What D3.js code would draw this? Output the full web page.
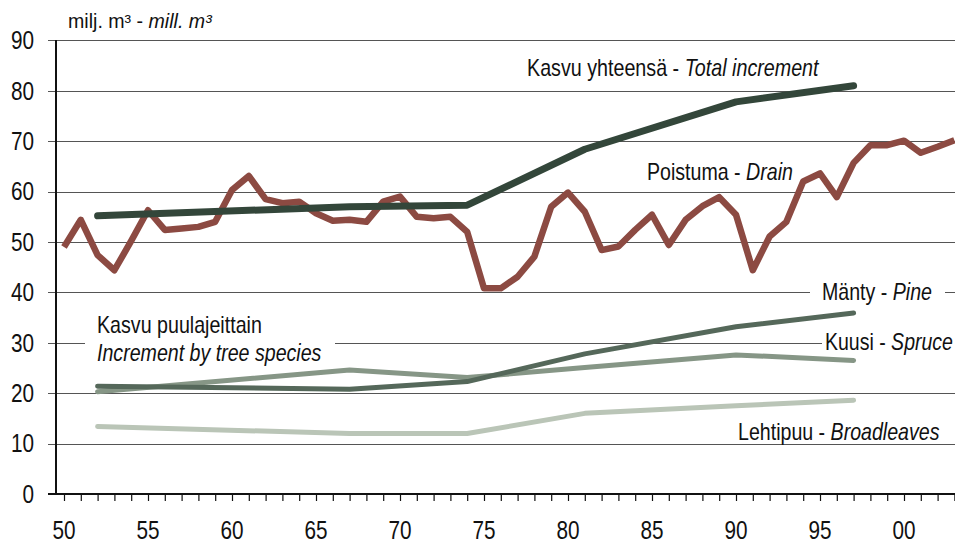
<!DOCTYPE html>
<html>
<head>
<meta charset="utf-8">
<script src="https://cdn.jsdelivr.net/npm/d3@7"></script>
<style>
  html, body { margin: 0; padding: 0; background: #fff; }
  svg { display: block; }
  text { font-family: "Liberation Sans", Arial, sans-serif; fill: #111; }
</style>
</head>
<body>
<svg id="chart" width="955" height="545"></svg>
<script>
// Drain (Poistuma), annual 1950-2003, mill. m3
const drainYears = [1950,1951,1952,1953,1954,1955,1956,1957,1958,1959,
  1960,1961,1962,1963,1964,1965,1966,1967,1968,1969,
  1970,1971,1972,1973,1974,1975,1976,1977,1978,1979,
  1980,1981,1982,1983,1984,1985,1986,1987,1988,1989,
  1990,1991,1992,1993,1994,1995,1996,1997,1998,1999,
  2000,2001,2002,2003];
const drain = [49.0,54.4,47.4,44.4,50.2,56.3,52.4,52.7,53.0,54.0,
  60.3,63.1,58.5,57.7,58.0,55.7,54.2,54.4,54.0,58.0,
  59.0,55.0,54.7,55.0,52.0,40.8,40.8,43.1,47.1,57.0,
  59.8,56.0,48.4,49.1,52.4,55.4,49.4,54.4,57.1,58.9,
  55.4,44.4,51.1,54.0,62.0,63.6,58.9,65.7,69.2,69.2,
  70.1,67.7,68.9,70.2];

// Increment by inventory (mid-years)
const incYears   = [1952,1967,1974,1981,1990,1997];
const totalInc   = [55.2,57.0,57.3,68.4,77.8,81.0];
const pine       = [21.4,20.8,22.3,27.8,33.2,35.9];
const spruce     = [20.3,24.6,23.1,25.1,27.6,26.5];
const broadleaf  = [13.4,12.0,12.0,16.0,17.5,18.6];

const yTicks = [0,10,20,30,40,50,60,70,80,90];
const xLabelYears = [1950,1955,1960,1965,1970,1975,1980,1985,1990,1995,2000];

const NARROW = 0.83; // the original uses a condensed face

const svg = d3.select('#chart');
const x = d3.scaleLinear().domain([1950, 2003]).range([64, 954.4]);
const y = d3.scaleLinear().domain([0, 90]).range([494, 40.4]);

// gridlines
svg.append('g').selectAll('line').data(yTicks.filter(v => v > 0)).join('line')
  .attr('x1', 48).attr('x2', 955)
  .attr('y1', d => Math.round(y(d)) + 0.5).attr('y2', d => Math.round(y(d)) + 0.5)
  .attr('stroke', '#555').attr('stroke-width', 1);

// y labels
svg.append('g').selectAll('text').data(yTicks).join('text')
  .attr('transform', d => 'translate(34,' + y(d) + ') scale(' + NARROW + ',1)')
  .attr('text-anchor', 'end').attr('dominant-baseline', 'central')
  .style('font-size', '25px')
  .text(d => d);

// x axis
const xAxis = d3.axisBottom(x).tickValues(drainYears).tickSize(7).tickFormat('');
const gx = svg.append('g').attr('transform', 'translate(0,494)').call(xAxis);
gx.select('.domain').remove();
gx.selectAll('.tick line').attr('stroke', '#111').attr('stroke-width', 1.2);
svg.append('line').attr('x1', 48).attr('x2', 955).attr('y1', 494).attr('y2', 494)
  .attr('stroke', '#111').attr('stroke-width', 2);
svg.append('line').attr('x1', 56).attr('x2', 56).attr('y1', 40).attr('y2', 495)
  .attr('stroke', '#111').attr('stroke-width', 2);

svg.append('g').selectAll('text').data(xLabelYears).join('text')
  .attr('transform', d => 'translate(' + x(d) + ',530) scale(' + NARROW + ',1)')
  .attr('text-anchor', 'middle').attr('dominant-baseline', 'central')
  .style('font-size', '25px')
  .text(d => String(d % 100).padStart(2, '0'));

// text label squeezed to a given width, optional white box behind it
const bgLayer = svg.append('g');
const lineLayer = svg.append('g');
const textLayer = svg.append('g');

function label(px, py, parts, opts) {
  const g = textLayer.append('g');
  const t = g.append('text').attr('x', 0).attr('y', 0)
    .attr('dominant-baseline', 'central')
    .style('font-size', opts.size + 'px');
  parts.forEach(p => {
    const ts = t.append('tspan').text(p.t);
    if (p.i) ts.style('font-style', 'italic');
  });
  const b = t.node().getBBox();
  const k = opts.width / b.width;
  g.attr('transform', 'translate(' + px + ',' + py + ') scale(' + k + ',1)');
  if (opts.bg) {
    bgLayer.append('rect').attr('fill', '#fff')
      .attr('x', px - opts.bg[0]).attr('y', py + b.y)
      .attr('width', opts.width + opts.bg[0] + opts.bg[1]).attr('height', b.height);
  }
}

label(68, 21, [{ t: 'milj. m³ - ' }, { t: 'mill. m³', i: true }], { size: 20, width: 145 });
label(527, 68, [{ t: 'Kasvu yhteensä - ' }, { t: 'Total increment', i: true }], { size: 23, width: 293 });
label(647, 172, [{ t: 'Poistuma - ' }, { t: 'Drain', i: true }], { size: 23, width: 146 });
label(822, 292, [{ t: 'Mänty - ' }, { t: 'Pine', i: true }], { size: 23, width: 110, bg: [12, 13] });
label(825, 342, [{ t: 'Kuusi - ' }, { t: 'Spruce', i: true }], { size: 23, width: 128, bg: [3, 10] });
label(738, 432, [{ t: 'Lehtipuu - ' }, { t: 'Broadleaves', i: true }], { size: 23, width: 202 });
label(97, 325, [{ t: 'Kasvu puulajeittain' }], { size: 23, width: 165 });
label(97, 353, [{ t: 'Increment by tree species', i: true }], { size: 23, width: 225, bg: [12, 13] });

// lines
const lineGen = (xs, vs) => d3.line().x((d, i) => x(xs[i])).y(d => y(d))(vs);

const series = [
  { xs: incYears, vs: broadleaf, color: '#bac5b7', w: 5 },
  { xs: incYears, vs: spruce,    color: '#869686', w: 5 },
  { xs: incYears, vs: pine,      color: '#55685a', w: 5 },
  { xs: drainYears, vs: drain,   color: '#8c4a42', w: 6.5, cap: 'butt' },
  { xs: incYears, vs: totalInc,  color: '#33463a', w: 7 }
];

lineLayer.selectAll('path').data(series).join('path')
  .attr('d', s => lineGen(s.xs, s.vs))
  .attr('fill', 'none')
  .attr('stroke', s => s.color)
  .attr('stroke-width', s => s.w)
  .attr('stroke-linecap', s => s.cap || 'round')
  .attr('stroke-linejoin', 'round');
</script>
</body>
</html>
